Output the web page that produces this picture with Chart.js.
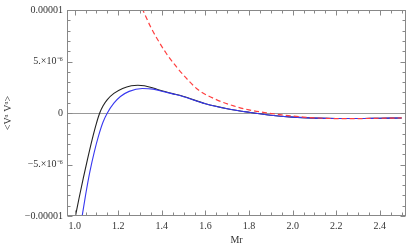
<!DOCTYPE html>
<html>
<head>
<meta charset="utf-8">
<script src="https://cdn.jsdelivr.net/npm/chart.js@4"></script>
<style>
  html, body { margin: 0; padding: 0; background: #fff; }
  #wrap { width: 408px; height: 251px; }
</style>
</head>
<body>
<div id="wrap"><canvas id="graph" width="408" height="251"></canvas></div>
<script>
// values are in units of 1e-6
const mrBlack = [1.00, 1.02, 1.04, 1.06, 1.08, 1.10, 1.115, 1.13, 1.15, 1.18, 1.22, 1.26, 1.29, 1.32, 1.36, 1.40, 1.45, 1.50, 1.60, 1.70, 1.80, 1.90, 2.00, 2.10, 2.20, 2.30, 2.40, 2.50];
const vBlack  = [-10.4, -8.3, -6.3, -4.4, -2.6, -1.0, 0.0, 0.68, 1.3, 1.9, 2.38, 2.64, 2.7, 2.64, 2.42, 2.16, 1.88, 1.6, 0.9, 0.42, 0.07, -0.22, -0.40, -0.50, -0.54, -0.54, -0.51, -0.48];

const mrBlue = [1.03, 1.05, 1.07, 1.09, 1.11, 1.13, 1.15, 1.18, 1.21, 1.25, 1.31, 1.36, 1.40, 1.45, 1.50, 1.60, 1.70, 1.80, 1.90, 2.00, 2.10, 2.20, 2.30, 2.40, 2.50];
const vBlue  = [-10.6, -8.0, -5.7, -3.8, -2.2, -0.9, 0.0, 0.95, 1.6, 2.1, 2.38, 2.32, 2.12, 1.86, 1.58, 0.9, 0.42, 0.07, -0.22, -0.40, -0.50, -0.54, -0.54, -0.51, -0.48];

const mrRed = [1.28, 1.313, 1.35, 1.39, 1.42, 1.47, 1.52, 1.57, 1.65, 1.72, 1.80, 1.88, 1.95, 2.00, 2.05, 2.10, 2.20, 2.30, 2.40, 2.50];
const vRed  = [11.6, 10.0, 8.3, 6.8, 5.8, 4.4, 3.2, 2.2, 1.3, 0.75, 0.3, 0.02, -0.18, -0.3, -0.4, -0.47, -0.54, -0.54, -0.51, -0.48];

const xTicks = [1.0, 1.2, 1.4, 1.6, 1.8, 2.0, 2.2, 2.4];
const yTicks = [-10, -5, 0, 5, 10];
const yTickLabels = ['\u22120.00001', '\u22125.\u00d710\u207b\u2076', '0', '5.\u00d710\u207b\u2076', '0.00001'];

const toPoints = (xs, ys) => xs.map((x, i) => ({ x: x, y: ys[i] }));

// frame with inward major/minor ticks, plus the zero line
const framePlugin = {
  id: 'frame',
  beforeDatasetsDraw(chart) {
    const { ctx, chartArea: a, scales: { y } } = chart;
    ctx.save();
    ctx.strokeStyle = '#999';
    ctx.lineWidth = 1;
    const y0 = Math.round(y.getPixelForValue(0)) + 0.5;
    ctx.beginPath();
    ctx.moveTo(a.left, y0);
    ctx.lineTo(a.right, y0);
    ctx.stroke();
    ctx.restore();
  },
  afterDraw(chart) {
    const { ctx, chartArea: a, scales: { x, y } } = chart;
    ctx.save();
    ctx.strokeStyle = '#888';
    ctx.lineWidth = 1;
    const L = Math.round(a.left) + 0.5, R = Math.round(a.right) - 0.5;
    const T = Math.round(a.top) + 0.5, B = Math.round(a.bottom) - 0.5;
    ctx.strokeRect(L, T, R - L, B - T);
    ctx.beginPath();
    for (let i = 0; i <= 31; i++) {
      const v = 1.0 + i * 0.05;
      const len = i % 4 === 0 ? 5 : 3;
      const px = Math.round(x.getPixelForValue(v)) + 0.5;
      if (px < L || px > R) continue;
      ctx.moveTo(px, B); ctx.lineTo(px, B - len);
      ctx.moveTo(px, T); ctx.lineTo(px, T + len);
    }
    for (let v = -10; v <= 10; v++) {
      const len = v % 5 === 0 ? 5 : 3;
      const py = Math.round(y.getPixelForValue(v)) + 0.5;
      ctx.moveTo(L, py); ctx.lineTo(L + len, py);
      ctx.moveTo(R, py); ctx.lineTo(R - len, py);
    }
    ctx.stroke();
    ctx.restore();
  }
};

const font = { family: 'Liberation Serif', size: 10 };

const config = {
  type: 'line',
  data: {
    datasets: [
      {
        data: toPoints(mrRed, vRed),
        borderColor: '#ff4040',
        borderWidth: 1.2,
        borderDash: [5, 3],
        pointRadius: 0,
        cubicInterpolationMode: 'monotone'
      },
      {
        data: toPoints(mrBlue, vBlue),
        borderColor: '#3838f0',
        borderWidth: 1.1,
        pointRadius: 0,
        cubicInterpolationMode: 'monotone'
      },
      {
        data: toPoints(mrBlack, vBlack),
        borderColor: '#222',
        borderWidth: 1.1,
        pointRadius: 0,
        cubicInterpolationMode: 'monotone'
      }
    ]
  },
  options: {
    responsive: false,
    animation: false,
    layout: { padding: { top: 6, right: 2, left: 0, bottom: 0 } },
    plugins: { legend: { display: false }, tooltip: { enabled: false } },
    scales: {
      x: {
        type: 'linear',
        min: 0.965,
        max: 2.52,
        grid: { display: false, drawTicks: false },
        border: { display: false },
        afterBuildTicks: (s) => { s.ticks = xTicks.map(v => ({ value: v })); },
        afterFit: (s) => { s.height = 35; },
        ticks: { font: font, color: '#333', padding: 4, maxRotation: 0, callback: (v) => v.toFixed(1) },
        title: { display: true, text: 'Mr', font: font, color: '#333', padding: { top: 0, bottom: 5 } }
      },
      y: {
        min: -10,
        max: 10,
        grid: { display: false, drawTicks: false },
        border: { display: false },
        afterBuildTicks: (s) => { s.ticks = yTicks.map(v => ({ value: v })); },
        afterFit: (s) => { s.width = 67; },
        ticks: { font: font, color: '#333', padding: 4, callback: (v) => yTickLabels[yTicks.indexOf(v)] },
        title: { display: true, text: '<V\u1d45 V\u1d45>', font: font, color: '#333', padding: 2 }
      }
    }
  },
  plugins: [framePlugin]
};

const myChart = new Chart(document.getElementById('graph').getContext('2d'), config);
</script>
</body>
</html>
